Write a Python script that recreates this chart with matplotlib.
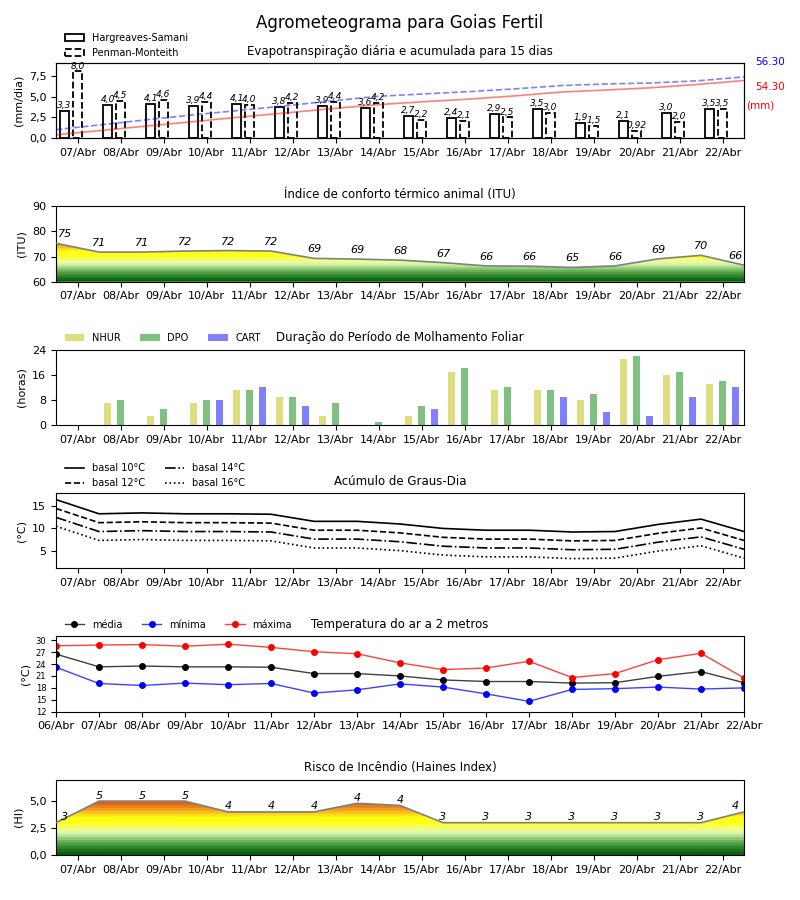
import numpy as np
import matplotlib
matplotlib.use('Agg')
import matplotlib.pyplot as plt
import matplotlib.patches as mpatches
from matplotlib.colors import LinearSegmentedColormap
from matplotlib.ticker import FuncFormatter

# datas (06/Abr a 22/Abr)
dias = ['06/Abr', '07/Abr', '08/Abr', '09/Abr', '10/Abr', '11/Abr', '12/Abr', '13/Abr',
        '14/Abr', '15/Abr', '16/Abr', '17/Abr', '18/Abr', '19/Abr', '20/Abr', '21/Abr', '22/Abr']

# evapotranspiração diária (mm/dia), 07/Abr a 22/Abr
et_hargreaves = [3.3, 4.0, 4.1, 3.9, 4.1, 3.8, 3.9, 3.6, 2.7, 2.4, 2.9, 3.5, 1.9, 2.1, 3.0, 3.5]
et_penman = [8.0, 4.5, 4.6, 4.4, 4.0, 4.2, 4.4, 4.2, 2.2, 2.1, 2.5, 3.0, 1.5, 0.92, 2.0, 3.5]
acum_hargreaves = 54.30
acum_penman = 56.30

# índice de conforto térmico animal (06/Abr a 22/Abr)
itu = [75.3, 71.8, 71.8, 72.2, 72.4, 72.2, 69.3, 69.0, 68.6, 67.6, 66.3, 66.2, 65.7, 66.3, 69.1, 70.5, 66.6]

# molhamento foliar (horas), 07/Abr a 22/Abr
nhur = [0, 7, 3, 7, 11, 9, 3, 0, 3, 17, 11, 11, 8, 21, 16, 13]
dpo = [0, 8, 5, 8, 11, 9, 7, 1, 6, 18, 12, 11, 10, 22, 17, 14]
cart = [0, 0, 0, 8, 12, 6, 0, 0, 5, 0, 0, 9, 4, 3, 9, 12]

# temperatura do ar a 2 m (°C), 06/Abr a 22/Abr
t_media = [26.5, 23.3, 23.5, 23.3, 23.3, 23.2, 21.6, 21.6, 21.0, 20.0, 19.6, 19.6, 19.2, 19.3, 20.9, 22.1, 19.3]
t_minima = [23.2, 19.1, 18.6, 19.2, 18.8, 19.1, 16.7, 17.5, 19.0, 18.2, 16.5, 14.6, 17.6, 17.8, 18.2, 17.7, 18.0]
t_maxima = [28.6, 28.8, 28.9, 28.5, 29.0, 28.2, 27.1, 26.6, 24.3, 22.6, 23.0, 24.7, 20.6, 21.6, 25.1, 26.7, 20.5]

# temperaturas basais (°C)
bases = [10, 12, 14, 16]

# índice de Haines (06/Abr a 22/Abr)
haines = [3, 5, 5, 5, 4, 4, 4, 4.8, 4.6, 3, 3, 3, 3, 3, 3, 3, 4]

cores_risco = ['#0a5f0a', '#2e862e', '#6cb35a', '#b4e096', '#e8fbb0', '#f4ff70',
               '#ffff20', '#ffff10', '#fbd020', '#f0961e', '#de5f0e', '#b02800']
pos_risco = [0.0, 0.10, 0.20, 0.28, 0.35, 0.42, 0.48, 0.58, 0.64, 0.72, 0.82, 1.0]
cmap_risco = LinearSegmentedColormap.from_list('risco', list(zip(pos_risco, cores_risco)), N=22)

virgula = FuncFormatter(lambda v, p: f'{v:.1f}'.replace('.', ','))


def preencher_gradiente(ax, x, y, ylim, vmin, vmax, desloc):
    poly = ax.fill_between(x, ylim[0], y, facecolor='none', edgecolor='none')
    caminho = poly.get_paths()[0]
    grad = np.linspace(ylim[0], ylim[1], 400).reshape(-1, 1)
    img = ax.imshow(grad, extent=[x[0], x[-1], ylim[0], ylim[1]], origin='lower',
                    aspect='auto', cmap=cmap_risco, vmin=vmin, vmax=vmax, zorder=1)
    img.set_clip_path(caminho, transform=ax.transData)
    ax.plot(x, y, color='gray', lw=1.2, zorder=3)
    for xi, yi in zip(x, y):
        ax.text(np.clip(xi, 0.2, x[-1] - 0.2), yi + desloc, str(int(yi)), style='italic',
                fontsize=8, ha='center', va='bottom', zorder=4)


def eixo_diario(ax):
    ax.set_xlim(0, len(dias) - 1)
    ax.set_xticks(np.arange(len(dias) - 1) + 0.5)
    ax.set_xticklabels(dias[1:], fontsize=8)
    ax.tick_params(axis='y', labelsize=8)


fig, axes = plt.subplots(6, 1, figsize=(8, 9))
plt.subplots_adjust(left=0.07, right=0.93, top=0.93, bottom=0.05, hspace=0.9)
fig.suptitle('Agrometeograma para Goias Fertil', fontsize=12, y=0.985)

x = np.arange(len(dias))
xd = np.arange(len(dias) - 1)

# 1 - evapotranspiração
ax = axes[0]
ax.bar(xd + 0.2, et_hargreaves, width=0.2, facecolor='white', edgecolor='black', lw=1.3, zorder=2)
ax.bar(xd + 0.5, et_penman, width=0.2, facecolor='white', edgecolor='black', lw=1.3, ls='--', zorder=2)
for xi, h, p in zip(xd, et_hargreaves, et_penman):
    ax.text(xi + 0.2, h + 0.1, f'{h:#.2g}'.replace('.', ','), style='italic', fontsize=6.5, ha='center', va='bottom')
    ax.text(xi + 0.5, p + 0.1, f'{p:#.2g}'.replace('.', ','), style='italic', fontsize=6.5, ha='center', va='bottom')
eixo_diario(ax)
ax.set_ylim(0, 9)
ax.set_yticks([0, 2.5, 5, 7.5])
ax.yaxis.set_major_formatter(virgula)
ax.set_ylabel('(mm/dia)', fontsize=8)
ax.set_title('Evapotranspiração diária e acumulada para 15 dias', fontsize=8.5)
leg = [mpatches.Patch(facecolor='white', edgecolor='black', lw=1.3, label='Hargreaves-Samani'),
       mpatches.Patch(facecolor='white', edgecolor='black', lw=1.3, ls='--', label='Penman-Monteith')]
ax.legend(handles=leg, loc='lower left', bbox_to_anchor=(0, 0.95), fontsize=7, frameon=False)
ax2 = ax.twinx()
xa = np.linspace(0, len(dias) - 1, len(et_penman))
ax2.plot(xa, np.cumsum(et_hargreaves), color='red', alpha=0.5, lw=1.2)
ax2.plot(xa, np.cumsum(et_penman), color='blue', alpha=0.5, lw=1.2, ls='--')
ax2.set_ylim(0, max(acum_hargreaves, acum_penman) * 1.22)
ax2.set_yticks([])
ax.text(1.016, 1.01, f'{acum_penman:.2f}', color='blue', fontsize=7.5, transform=ax.transAxes, va='center')
ax.text(1.016, 0.68, f'{acum_hargreaves:.2f}', color='red', fontsize=7.5, transform=ax.transAxes, va='center')
ax.text(1.003, 0.44, '(mm)', color='red', fontsize=7.5, transform=ax.transAxes, va='center')

# 2 - ITU
ax = axes[1]
preencher_gradiente(ax, x, itu, (60, 90), 60, 81, 1.6)
eixo_diario(ax)
ax.set_ylim(60, 90)
ax.set_yticks([60, 70, 80, 90])
ax.set_ylabel('(ITU)', fontsize=8)
ax.set_title('Índice de conforto térmico animal (ITU)', fontsize=8.5)

# 3 - molhamento foliar
ax = axes[2]
ax.bar(xd + 0.2, nhur, width=0.16, color='#dede80', label='NHUR')
ax.bar(xd + 0.5, dpo, width=0.16, color='#80c080', label='DPO')
ax.bar(xd + 0.8, cart, width=0.16, color='#8080ff', label='CART')
eixo_diario(ax)
ax.set_ylim(0, 24)
ax.set_yticks([0, 8, 16, 24])
ax.set_ylabel('(horas)', fontsize=8)
ax.set_title('Duração do Período de Molhamento Foliar', fontsize=8.5)
ax.legend(loc='lower left', bbox_to_anchor=(0, 0.97), ncol=3, fontsize=7, frameon=False)

# 4 - graus-dia
ax = axes[3]
estilos = ['-', '--', '-.', ':']
for base, ls in zip(bases, estilos):
    ax.plot(x, np.array(t_media) - base, color='black', ls=ls, lw=1.2, label=f'basal {base}°C')
eixo_diario(ax)
ax.set_ylim(1, 18)
ax.set_yticks([5, 10, 15])
ax.set_ylabel('(°C)', fontsize=8)
ax.set_title('Acúmulo de Graus-Dia', fontsize=8.5)
ax.legend(loc='lower left', bbox_to_anchor=(0, 0.95), ncol=2, fontsize=7, frameon=False)

# 5 - temperatura
ax = axes[4]
for serie, cor, nome in [(t_media, 'black', 'média'), (t_minima, 'blue', 'mínima'), (t_maxima, 'red', 'máxima')]:
    ax.plot(x, serie, color=matplotlib.colors.to_rgba(cor, 0.75), marker='o', ms=4, lw=1,
            mfc=cor, mec=cor, label=nome)
ax.set_xlim(0, len(dias) - 1)
ax.set_xticks(x)
ax.set_xticklabels(dias, fontsize=8)
ax.set_ylim(12, 31)
ax.set_yticks(np.arange(12, 31, 3))
ax.tick_params(axis='y', labelsize=6)
ax.set_ylabel('(°C)', fontsize=8)
ax.set_title('Temperatura do ar a 2 metros', fontsize=8.5)
ax.legend(loc='lower left', bbox_to_anchor=(0, 0.97), ncol=3, fontsize=7, frameon=False)

# 6 - Haines
ax = axes[5]
preencher_gradiente(ax, x, haines, (0, 7), 0, 6, 0.05)
eixo_diario(ax)
ax.set_ylim(0, 7)
ax.set_yticks([0, 2.5, 5])
ax.yaxis.set_major_formatter(virgula)
ax.set_ylabel('(HI)', fontsize=8)
ax.set_title('Risco de Incêndio (Haines Index)', fontsize=8.5)

plt.savefig('out.png', dpi=100)
